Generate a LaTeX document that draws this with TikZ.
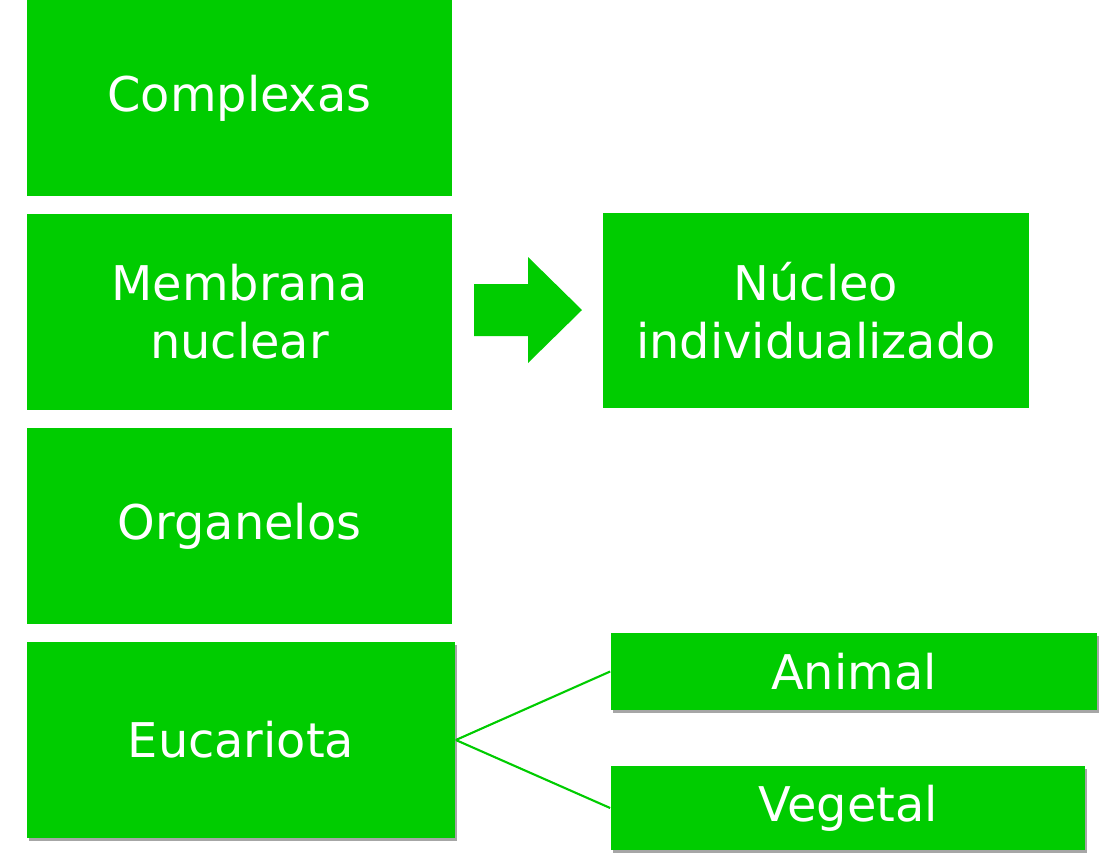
\documentclass[tikz,border=0pt]{standalone}
\usepackage{fontspec}
\setmainfont{DejaVu Sans}
\usetikzlibrary{shadows}
\definecolor{gr}{HTML}{00CC00}
\begin{document}
\begin{tikzpicture}[x=0.01cm,y=-0.01cm,
 box/.style={fill=gr,draw=none,text=white,align=center,font=\fontsize{13.6pt}{16.5pt}\selectfont,inner sep=0pt},
 sh/.style={drop shadow={shadow xshift=0.02cm,shadow yshift=-0.03cm,fill=black,opacity=0.35}}]
\useasboundingbox (0,0) rectangle (1111,866);
\node[box,minimum width=4.25cm,minimum height=1.96cm] (c) at (239.5,98) {Complexas};
\node[box,minimum width=4.25cm,minimum height=1.96cm] (m) at (239.5,312) {Membrana\\nuclear};
\node[box,minimum width=4.25cm,minimum height=1.96cm] (o) at (239.5,526) {Organelos};
\node[box,sh,minimum width=4.28cm,minimum height=1.96cm] (e) at (241,740) {Eucariota};
\node[box,minimum width=4.26cm,minimum height=1.95cm] (n) at (816,310.5) {Núcleo\\individualizado};
\node[box,sh,minimum width=4.86cm,minimum height=0.77cm] (a) at (854,671.5) {Animal};
\node[box,sh,minimum width=4.74cm,minimum height=0.84cm] (v) at (848,808) {Vegetal};
\fill[gr] (474,284) -- (528,284) -- (528,257) -- (582,310) -- (528,363) -- (528,336) -- (474,336) -- cycle;
\draw[gr,line width=0.6pt] (e.east) -- (a.west);
\draw[gr,line width=0.6pt] (e.east) -- (v.west);
\end{tikzpicture}
\end{document}
